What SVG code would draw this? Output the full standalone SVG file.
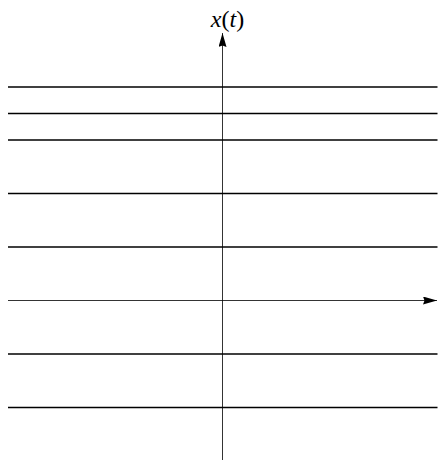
<svg xmlns="http://www.w3.org/2000/svg" width="443" height="460" viewBox="0 0 443 460">
<defs>
<marker id="ah" viewBox="0 0 14 8" refX="14" refY="4" markerWidth="14" markerHeight="8" markerUnits="userSpaceOnUse" orient="auto">
<path d="M0,0 L14,4 L0,8 L1.5,4 Z" fill="#000"/>
</marker>
<style>
.lvl{stroke:#000;stroke-width:1.4;fill:none}
.ax{stroke:#000;stroke-width:0.8;fill:none}
.lbl{font-family:"Liberation Serif",serif;font-size:24px;fill:#000}
</style>
</defs>
<rect width="443" height="460" fill="#fff"/>
<g id="levels">
<line class="lvl" x1="8" y1="87" x2="437.5" y2="87"/>
<line class="lvl" x1="8" y1="113.5" x2="437.5" y2="113.5"/>
<line class="lvl" x1="8" y1="140" x2="437.5" y2="140"/>
<line class="lvl" x1="8" y1="193.5" x2="437.5" y2="193.5"/>
<line class="lvl" x1="8" y1="247" x2="437.5" y2="247"/>
<line class="lvl" x1="8" y1="354" x2="437.5" y2="354"/>
<line class="lvl" x1="8" y1="407.5" x2="437.5" y2="407.5"/>
</g>
<g id="axes">
<line class="ax" x1="8" y1="300.5" x2="437" y2="300.5" marker-end="url(#ah)"/>
<line class="ax" x1="222.5" y1="460" x2="222.5" y2="33" marker-end="url(#ah)"/>
</g>
<text class="lbl" x="227.5" y="27" text-anchor="middle"><tspan font-style="italic">x</tspan>(<tspan font-style="italic">t</tspan>)</text>
</svg>
